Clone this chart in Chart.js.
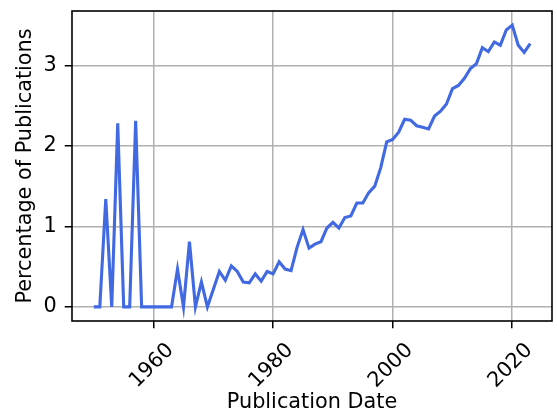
<!DOCTYPE html>
<html lang="en">
<head>
    <meta charset="UTF-8">
    <title>Publications by year</title>
    <script src="https://cdn.jsdelivr.net/npm/chart.js@4/dist/chart.umd.min.js"></script>
    <style>
        body { margin: 0; background: #fff; }
        #wrap { width: 557px; height: 415px; }
    </style>
</head>
<body>
<div id="wrap"><canvas id="pubChart"></canvas></div>
<script>
    // publication year and share of publications (%)
    const years = [
        1950, 1951, 1952, 1953, 1954, 1955, 1956, 1957, 1958, 1959,
        1960, 1961, 1962, 1963, 1964, 1965, 1966, 1967, 1968, 1969,
        1970, 1971, 1972, 1973, 1974, 1975, 1976, 1977, 1978, 1979,
        1980, 1981, 1982, 1983, 1984, 1985, 1986, 1987, 1988, 1989,
        1990, 1991, 1992, 1993, 1994, 1995, 1996, 1997, 1998, 1999,
        2000, 2001, 2002, 2003, 2004, 2005, 2006, 2007, 2008, 2009,
        2010, 2011, 2012, 2013, 2014, 2015, 2016, 2017, 2018, 2019,
        2020, 2021, 2022, 2023
    ];
    const percentages = [
        0, 0, 1.34, 0, 2.28, 0, 0, 2.31, 0, 0,
        0, 0, 0, 0, 0.47, 0, 0.81, 0, 0.31, 0,
        0.22, 0.44, 0.33, 0.51, 0.44, 0.31, 0.30, 0.41, 0.32, 0.44,
        0.41, 0.56, 0.47, 0.45, 0.74, 0.96, 0.73, 0.78, 0.81, 0.98,
        1.05, 0.98, 1.11, 1.13, 1.29, 1.29, 1.42, 1.50, 1.73, 2.05,
        2.08, 2.17, 2.33, 2.32, 2.25, 2.23, 2.21, 2.37, 2.43, 2.52,
        2.71, 2.75, 2.84, 2.96, 3.02, 3.22, 3.17, 3.29, 3.25, 3.44,
        3.50, 3.25, 3.16, 3.27
    ];
    const xTicks = [1960, 1980, 2000, 2020];
    const yTicks = [0, 1, 2, 3];

    Chart.defaults.font.family = "'DejaVu Sans', sans-serif";
    Chart.defaults.font.size = 20.8;
    Chart.defaults.color = '#000';

    // box around the plotting area (all four spines)
    const frame = {
        id: 'frame',
        afterDraw(chart) {
            const {ctx, chartArea: a} = chart;
            ctx.save();
            ctx.strokeStyle = '#000';
            ctx.lineWidth = 1.6;
            ctx.strokeRect(a.left, a.top, a.right - a.left, a.bottom - a.top);
            ctx.restore();
        }
    };

    // keep the axes from reserving extra room for edge labels
    function noEdgePadding(s) {
        s.paddingLeft = 0;
        s.paddingRight = 0;
        s.paddingTop = 0;
        s.paddingBottom = 0;
    }

    const grid = { color: '#b0b0b0', lineWidth: 1.5, tickColor: '#000', tickWidth: 1.5, tickLength: 7.3 };

    const ctx = document.getElementById('pubChart').getContext('2d');
    const chart = new Chart(ctx, {
        type: 'line',
        data: {
            datasets: [{
                data: years.map((y, i) => ({x: y, y: percentages[i]})),
                borderColor: '#4169e1',
                borderWidth: 3.1,
                pointRadius: 0,
                tension: 0,
                fill: false
            }]
        },
        options: {
            responsive: true,
            maintainAspectRatio: false,
            animation: false,
            layout: { padding: { left: 0, right: 5, top: 11, bottom: 0 } },
            plugins: { legend: { display: false }, tooltip: { enabled: false } },
            scales: {
                x: {
                    type: 'linear',
                    min: 1946.35,
                    max: 2026.65,
                    afterBuildTicks: s => { s.ticks = xTicks.map(v => ({value: v})); },
                    afterFit: s => { s.height = 94; noEdgePadding(s); },
                    ticks: {
                        autoSkip: false,
                        minRotation: 45,
                        maxRotation: 45,
                        labelOffset: 17,
                        padding: 10,
                        callback: v => String(v)
                    },
                    grid: grid,
                    border: { display: false },
                    title: { display: true, text: 'Publication Date', padding: { top: 0, bottom: 0 } }
                },
                y: {
                    min: -0.175,
                    max: 3.675,
                    afterBuildTicks: s => { s.ticks = yTicks.map(v => ({value: v})); },
                    afterFit: s => { s.width = 72; noEdgePadding(s); },
                    ticks: { padding: 8 },
                    grid: grid,
                    border: { display: false },
                    title: { display: true, text: 'Percentage of Publications', padding: { top: 13, bottom: 0 } }
                }
            }
        },
        plugins: [frame]
    });
</script>
</body>
</html>
